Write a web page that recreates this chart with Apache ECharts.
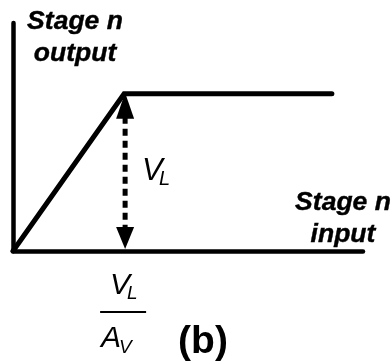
<!DOCTYPE html>
<html>
<head>
<meta charset="utf-8">
<script src="https://cdn.jsdelivr.net/npm/echarts@6/dist/echarts.min.js"></script>
<style>
  html, body { margin: 0; padding: 0; background: #fff; }
  #chart { width: 392px; height: 361px; }
</style>
</head>
<body>
<div id="chart"></div>
<script>
// Transfer characteristic of one stage: linear gain up to the limit V_L, then flat.
// Input in units of V_L/A_V, output in units of V_L.
const inputVals = [0, 1, 2.87];
const outputVals = [0, 1, 1];
// The dashed V_L marker stands at the knee of the curve.
const kneeInput = 1;
const kneeOutput = 1;
// Axis extents
const inputMax = 3.15;
const outputMax = 1.45;

const FONT = '"Liberation Sans", Arial, Helvetica, sans-serif';

const chart = echarts.init(document.getElementById('chart'), null, { renderer: 'canvas' });

const axisCommon = {
  type: 'value',
  min: 0,
  axisLine: { show: true, lineStyle: { color: '#000', width: 4.5, cap: 'round' } },
  axisTick: { show: false },
  axisLabel: { show: false },
  splitLine: { show: false }
};

chart.setOption({
  animation: false,
  backgroundColor: '#fff',
  grid: { left: 13, top: 23, right: 29, bottom: 110 },
  xAxis: Object.assign({}, axisCommon, { max: inputMax }),
  yAxis: Object.assign({}, axisCommon, { max: outputMax }),
  series: [
    {
      type: 'line',
      data: inputVals.map((x, i) => [x, outputVals[i]]),
      symbol: 'none',
      lineStyle: { color: '#000', width: 5, cap: 'round', join: 'miter' },
      z: 3
    },
    {
      // double-headed dashed arrow spanning V_L
      type: 'custom',
      data: [[kneeInput, 0, kneeOutput]],
      z: 4,
      renderItem: function (params, api) {
        const bottom = api.coord([api.value(0), api.value(1)]);
        const top = api.coord([api.value(0), api.value(2)]);
        const x = top[0] + 1;
        const headLen = 26, headHalf = 9;
        const yTopTip = top[1] - 1, yBotTip = bottom[1] - 2;
        return {
          type: 'group',
          children: [
            {
              type: 'line',
              shape: { x1: x, y1: yTopTip + headLen - 2, x2: x, y2: yBotTip - headLen + 4 },
              style: { stroke: '#000', lineWidth: 5, lineDash: [7, 5], lineCap: 'butt' }
            },
            {
              type: 'polygon',
              shape: { points: [[x, yTopTip], [x - headHalf, yTopTip + headLen], [x + headHalf, yTopTip + headLen]] },
              style: { fill: '#000' }
            },
            {
              type: 'polygon',
              shape: { points: [[x, yBotTip], [x - headHalf, yBotTip - headLen + 4], [x + headHalf, yBotTip - headLen + 4]] },
              style: { fill: '#000' }
            }
          ]
        };
      }
    }
  ]
});

// Text annotations, placed relative to the axes.
const origin = chart.convertToPixel({ gridIndex: 0 }, [0, 0]);
const knee = chart.convertToPixel({ gridIndex: 0 }, [kneeInput, kneeOutput]);
const kneeBase = chart.convertToPixel({ gridIndex: 0 }, [kneeInput, 0]);

function txt(text, x, y, size, opts) {
  opts = opts || {};
  return {
    type: 'text',
    x: x, y: y,
    scaleX: opts.scaleX || 1,
    z: 10,
    style: {
      text: text,
      fill: '#000',
      font: (opts.style || 'normal') + ' ' + (opts.weight || 'normal') + ' ' + size + 'px ' + FONT,
      textAlign: opts.align || 'left',
      textVerticalAlign: 'middle',
      stroke: opts.stroke ? '#000' : null,
      lineWidth: opts.stroke || 0
    }
  };
}

const bi = { style: 'italic', weight: 'bold', align: 'center', scaleX: 1.02, stroke: 0.4 };
const it = { style: 'italic' };

const vlX = knee[0] + 18;
const vlMidY = (knee[1] + kneeBase[1]) / 2 + 1;
const fracX = kneeBase[0] - 24;

chart.setOption({
  graphic: [
    // y-axis title
    txt('Stage n', origin[0] + 62, 22, 26, bi),
    txt('output', origin[0] + 62, 54, 26, bi),
    // x-axis title
    txt('Stage n', 343, 203, 26, bi),
    txt('input', 343, 235, 26, bi),
    // V_L beside the arrow
    txt('V', vlX, vlMidY - 2, 31, it),
    txt('L', vlX + 17, vlMidY + 6, 20, it),
    // V_L / A_V below the knee
    txt('V', fracX + 10, kneeBase[1] + 35, 30, it),
    txt('L', fracX + 27, kneeBase[1] + 43, 19, it),
    {
      type: 'line', z: 10,
      shape: { x1: fracX, y1: kneeBase[1] + 61, x2: fracX + 46, y2: kneeBase[1] + 61 },
      style: { stroke: '#000', lineWidth: 2 }
    },
    txt('A', fracX + 1, kneeBase[1] + 88, 30, it),
    txt('V', fracX + 19, kneeBase[1] + 97, 19, it),
    txt('(b)', fracX + 78, kneeBase[1] + 91, 39, { weight: 'bold' })
  ]
});
</script>
</body>
</html>
